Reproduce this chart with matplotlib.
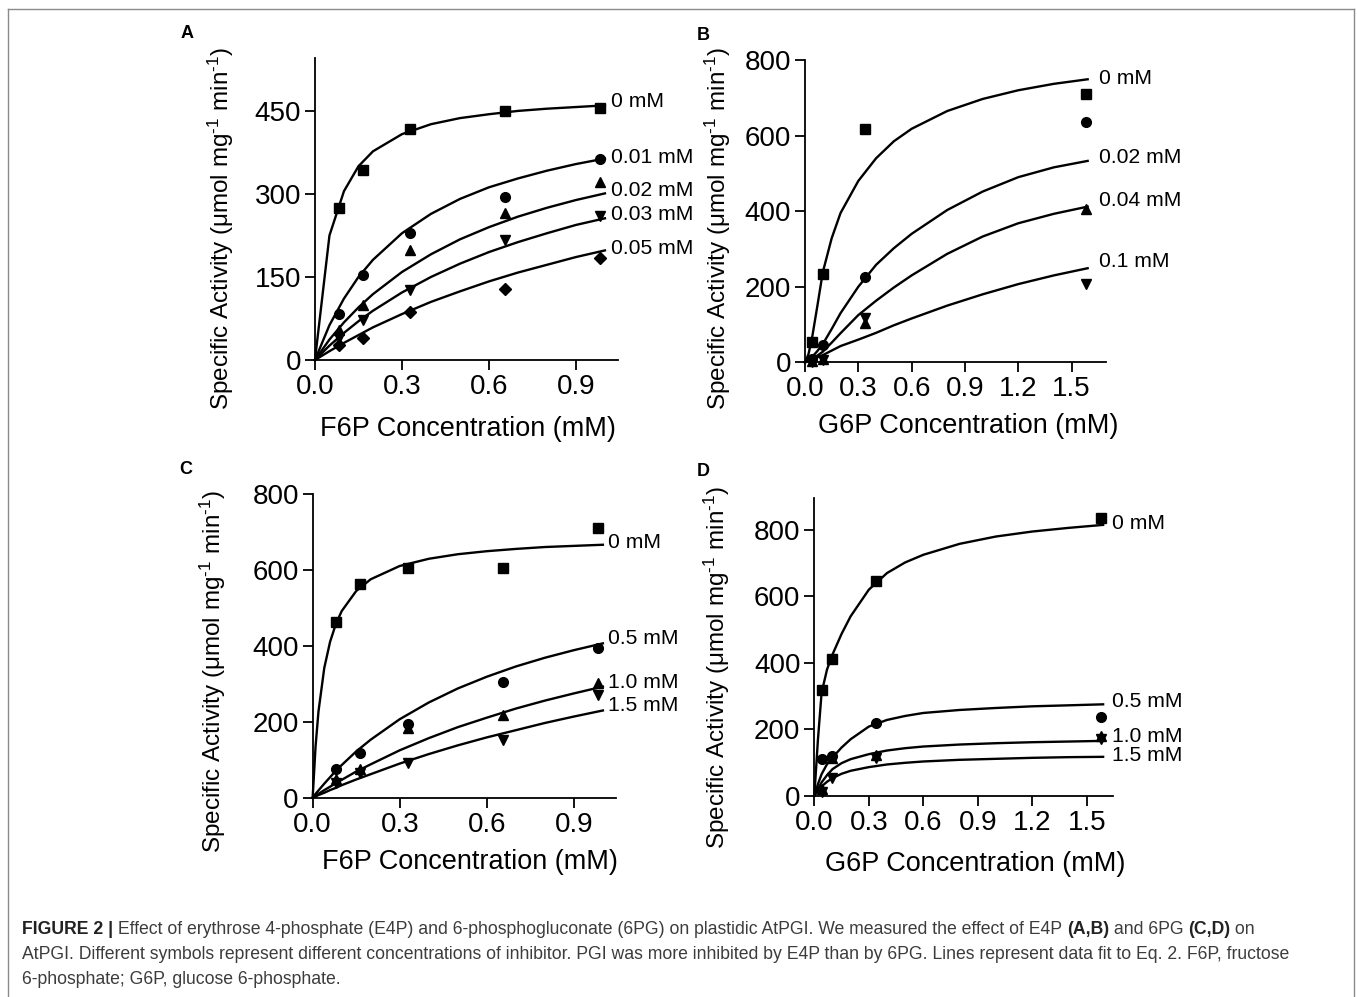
import matplotlib
matplotlib.use("Agg")
import matplotlib.pyplot as plt
from matplotlib.lines import Line2D

plt.rcParams['font.family'] = ['Liberation Sans', 'DejaVu Sans']
plt.rcParams['mathtext.fontset'] = 'custom'
plt.rcParams['mathtext.rm'] = 'Liberation Sans'
plt.rcParams['mathtext.it'] = 'Liberation Sans:italic'
plt.rcParams['mathtext.bf'] = 'Liberation Sans:bold'

# ---- measured substrate concentrations (mM) ----
f6p_conc = [0.082, 0.164, 0.328, 0.656, 0.984]
g6p_conc = [0.04, 0.10, 0.34, 1.58]

# ---- panel A: E4P inhibition, F6P substrate ----
a_levels = ["0 mM", "0.01 mM", "0.02 mM", "0.03 mM", "0.05 mM"]
a_pts_0 = [274, 344, 418, 450, 456]
a_pts_001 = [83, 153, 229, 295, 364]
a_pts_002 = [55, 99, 198, 266, 321]
a_pts_003 = [39, 73, 127, 217, 260]
a_pts_005 = [27, 40, 86, 129, 184]
a_fit_x = [0, 0.05, 0.1, 0.15, 0.2, 0.3, 0.4, 0.5, 0.6, 0.7, 0.8, 0.9, 1.0]
a_fit_0 = [0, 225, 305, 350, 377, 408, 426, 437, 444, 450, 454, 457, 460]
a_fit_001 = [0, 63, 111, 150, 181, 229, 264, 291, 312, 328, 342, 354, 364]
a_fit_002 = [0, 37, 68, 95, 119, 159, 191, 218, 240, 259, 275, 289, 301]
a_fit_003 = [0, 26, 49, 70, 89, 122, 150, 174, 195, 213, 229, 244, 256]
a_fit_005 = [0, 16, 31, 45, 59, 83, 105, 124, 142, 158, 172, 186, 198]
a_label_y = [467, 366, 307, 262, 202]

# ---- panel B: E4P inhibition, G6P substrate ----
b_levels = ["0 mM", "0.02 mM", "0.04 mM", "0.1 mM"]
b_pts_0 = [54, 235, 617, 709]
b_pts_002 = [10, 46, 226, 635]
b_pts_004 = [4, 8, 103, 405]
b_pts_01 = [2, 6, 116, 206]
g6p_fit_x = [0, 0.02, 0.04, 0.07, 0.1, 0.15, 0.2, 0.3, 0.4, 0.5, 0.6, 0.8, 1.0, 1.2, 1.4, 1.59]
b_fit_0 = [0, 22, 65, 150, 238, 328, 395, 480, 540, 585, 618, 665, 697, 720, 737, 749]
b_fit_002 = [0, 5, 14, 30, 48, 88, 130, 200, 258, 302, 340, 403, 452, 490, 516, 533]
b_fit_004 = [0, 4, 9, 18, 28, 52, 77, 125, 163, 198, 230, 287, 333, 368, 393, 412]
b_fit_01 = [0, 3, 7, 13, 19, 31, 43, 60, 78, 98, 116, 150, 180, 207, 230, 249]
b_label_y = [752, 543, 429, 268]

# ---- panel C: 6PG inhibition, F6P substrate ----
c_levels = ["0 mM", "0.5 mM", "1.0 mM", "1.5 mM"]
c_pts_0 = [462, 563, 605, 605, 712]
c_pts_05 = [76, 118, 194, 304, 394]
c_pts_10 = [48, 75, 184, 218, 302]
c_pts_15 = [39, 65, 92, 152, 271]
c_fit_x = [0, 0.01, 0.02, 0.04, 0.06, 0.08, 0.1, 0.15, 0.2, 0.3, 0.4, 0.5, 0.6, 0.7, 0.8, 0.9, 1.0]
c_fit_0 = [0, 135, 227, 342, 411, 458, 492, 545, 576, 611, 630, 642, 650, 656, 661, 664, 667]
c_fit_05 = [0, 10, 19, 37, 54, 71, 86, 122, 153, 207, 251, 288, 319, 346, 369, 389, 407]
c_fit_10 = [0, 5, 10, 20, 29, 38, 47, 69, 88, 125, 157, 186, 211, 235, 256, 275, 293]
c_fit_15 = [0, 3, 7, 13, 20, 26, 33, 48, 62, 90, 115, 138, 159, 178, 197, 214, 230]
c_label_y = [672, 421, 305, 242]

# ---- panel D: 6PG inhibition, G6P substrate ----
d_levels = ["0 mM", "0.5 mM", "1.0 mM", "1.5 mM"]
d_pts_0 = [318, 411, 646, 837]
d_pts_05 = [110, 118, 218, 236]
d_pts_10 = [20, 112, 122, 180]
d_pts_15 = [12, 52, 114, 170]
d_fit_0 = [0, 170, 310, 380, 425, 487, 540, 620, 670, 702, 725, 758, 780, 795, 806, 815]
d_fit_05 = [0, 35, 65, 95, 115, 145, 170, 208, 228, 240, 249, 258, 264, 269, 272, 275]
d_fit_10 = [0, 20, 40, 62, 80, 98, 110, 125, 136, 143, 148, 154, 158, 161, 163, 165]
d_fit_15 = [0, 15, 28, 42, 53, 66, 75, 86, 94, 99, 103, 108, 111, 114, 116, 117]
d_label_y = [818, 285, 178, 120]

caption_lines = [
    [("FIGURE 2 |", True),
     (" Effect of erythrose 4-phosphate (E4P) and 6-phosphogluconate (6PG) on plastidic AtPGI. "
      "We measured the effect of E4P ", False),
     ("(A,B)", True), (" and 6PG ", False), ("(C,D)", True), (" on", False)],
    [("AtPGI. Different symbols represent different concentrations of inhibitor. PGI was more "
      "inhibited by E4P than by 6PG. Lines represent data fit to Eq. 2. F6P, fructose", False)],
    [("6-phosphate; G6P, glucose 6-phosphate.", False)],
]

W, H = 1357, 997
YLABEL = r"Specific Activity (μmol mg$^{\text{-}1}$ min$^{\text{-}1}$)"


def draw_panel(ax, fit_x, fits, pts_x, pts, markers, msizes, levels, label_x, label_y,
               xlim, ylim, xticks, yticks, xlabel, xlab_pos, ylab_pos):
    for fy in fits:
        ax.plot(fit_x, fy, color='black', lw=1.7, clip_on=False, zorder=2)
    for py, m, ms in zip(pts, markers, msizes):
        ax.plot(pts_x, py, linestyle='none', marker=m, ms=ms, color='black',
                clip_on=False, zorder=3)
    for lab, ly in zip(levels, label_y):
        ax.text(label_x, ly, lab, fontsize=15.2, ha='left', va='center')

    ax.set_xlim(*xlim)
    ax.set_ylim(*ylim)
    ax.set_xticks(xticks)
    ax.set_xticklabels([f"{v:.1f}" for v in xticks])
    ax.set_yticks(yticks)
    for s in ['top', 'right']:
        ax.spines[s].set_visible(False)
    for s in ['left', 'bottom']:
        ax.spines[s].set_linewidth(1.3)
    ax.tick_params(direction='out', length=7, width=1.3, labelsize=20, pad=3)

    ax.set_xlabel(xlabel, fontsize=19.5, va='center')
    ax.xaxis.set_label_coords(*xlab_pos)
    ax.set_ylabel(YLABEL, fontsize=17.5, va='center')
    ax.yaxis.set_label_coords(*ylab_pos)


fig = plt.figure(figsize=(13.57, 9.97), dpi=100)

axA = fig.add_axes([0.2321, 0.6389, 0.2233, 0.3026])
draw_panel(axA, a_fit_x, [a_fit_0, a_fit_001, a_fit_002, a_fit_003, a_fit_005],
           f6p_conc, [a_pts_0, a_pts_001, a_pts_002, a_pts_003, a_pts_005],
           ['s', 'o', '^', 'v', 'D'], [6.5, 7, 7.5, 7.5, 6], a_levels, 1.02, a_label_y,
           (0, 1.045), (0, 545), [0, 0.3, 0.6, 0.9], [0, 150, 300, 450],
           "F6P Concentration (mM)", (0.505, -0.229), (-0.31, 0.4375))

axB = fig.add_axes([0.5932, 0.6366, 0.2218, 0.3032])
draw_panel(axB, g6p_fit_x, [b_fit_0, b_fit_002, b_fit_004, b_fit_01],
           g6p_conc, [b_pts_0, b_pts_002, b_pts_004, b_pts_01],
           ['s', 'o', '^', 'v'], [6.5, 7, 7.5, 7.5], b_levels, 1.654, b_label_y,
           (0, 1.693), (0, 800), [0, 0.3, 0.6, 0.9, 1.2, 1.5], [0, 200, 400, 600, 800],
           "G6P Concentration (mM)", (0.542, -0.211), (-0.288, 0.444))

axC = fig.add_axes([0.2304, 0.1999, 0.2235, 0.3043])
draw_panel(axC, c_fit_x, [c_fit_0, c_fit_05, c_fit_10, c_fit_15],
           f6p_conc, [c_pts_0, c_pts_05, c_pts_10, c_pts_15],
           ['s', 'o', '^', 'v'], [6.5, 7, 7.5, 7.5], c_levels, 1.017, c_label_y,
           (0, 1.045), (0, 800), [0, 0.3, 0.6, 0.9], [0, 200, 400, 600, 800],
           "F6P Concentration (mM)", (0.519, -0.212), (-0.330, 0.415))

axD = fig.add_axes([0.6001, 0.2019, 0.2199, 0.2983])
draw_panel(axD, g6p_fit_x, [d_fit_0, d_fit_05, d_fit_10, d_fit_15],
           g6p_conc, [d_pts_0, d_pts_05, d_pts_10, d_pts_15],
           ['s', 'o', '^', 'v'], [6.5, 7, 7.5, 7.5], d_levels, 1.637, d_label_y,
           (0, 1.643), (0, 895), [0, 0.3, 0.6, 0.9, 1.2, 1.5], [0, 200, 400, 600, 800],
           "G6P Concentration (mM)", (0.539, -0.230), (-0.325, 0.431))

# panel letters
for letter, (px, py) in zip("ABCD", [(187, 33), (703, 35), (186, 470), (703, 471)]):
    fig.text(px / W, 1 - py / H, letter, fontsize=13, fontweight='bold',
             ha='center', va='center')

# frame around the figure (open at the bottom)
frame_kw = dict(color='#8a8a8a', lw=1.0, transform=fig.transFigure)
fig.add_artist(Line2D([8 / W, 8 / W], [0, 1 - 9 / H], **frame_kw))
fig.add_artist(Line2D([8 / W, 1354 / W], [1 - 9 / H, 1 - 9 / H], **frame_kw))
fig.add_artist(Line2D([1354 / W, 1354 / W], [1 - 9 / H, 0], **frame_kw))

# caption, with bold runs placed one after another
renderer = fig.canvas.get_renderer()
for line, base_y in zip(caption_lines, [934, 959, 984]):
    x = 22
    for text, bold in line:
        t = fig.text(x / W, 1 - base_y / H, text, fontsize=12.7,
                     fontweight='bold' if bold else 'normal',
                     color='#222222' if bold else '#3c3c3c',
                     ha='left', va='baseline')
        x = t.get_window_extent(renderer).x1

fig.savefig("out.png", dpi=100)
